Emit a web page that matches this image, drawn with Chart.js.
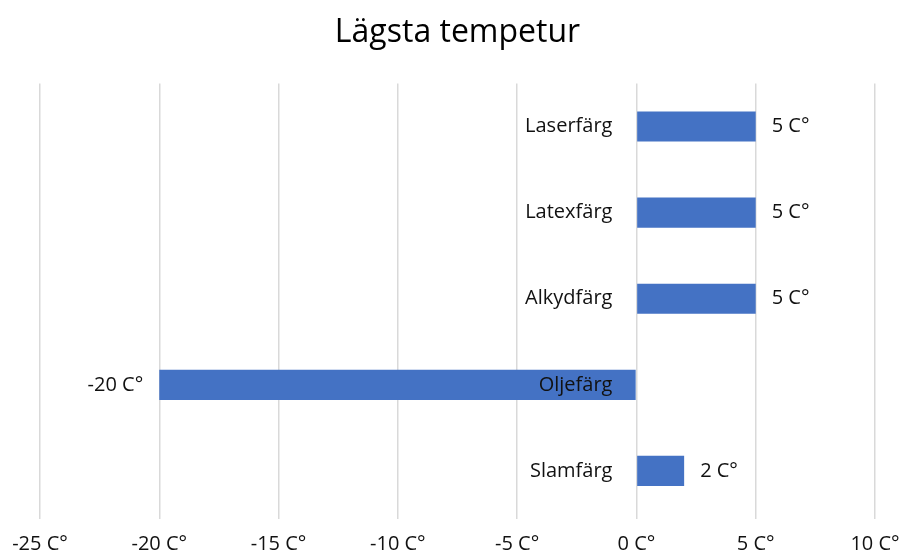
<!DOCTYPE html>
<html>
<head>
<meta charset="utf-8">
<script src="https://cdn.jsdelivr.net/npm/chart.js@4"></script>
<style>
  html, body { margin: 0; padding: 0; background: #fff; }
  #wrap { width: 900px; height: 554px; }
</style>
</head>
<body>
<div id="wrap"><canvas id="c" width="900" height="554"></canvas></div>
<script>
const categories = ['Laserfärg', 'Latexfärg', 'Alkydfärg', 'Oljefärg', 'Slamfärg'];
const values = [5, 5, 5, -20, 2];
const xTickValues = [-25, -20, -15, -10, -5, 0, 5, 10];
const unitSuffix = ' C°';
const titleText = 'Lägsta tempetur';

const FONT = "'Open Sans', 'Noto Sans', sans-serif";

const labelPlugin = {
  id: 'barLabels',
  afterDatasetsDraw(chart) {
    const ctx = chart.ctx;
    const meta = chart.getDatasetMeta(0);
    const xScale = chart.scales.x;
    const zeroX = xScale.getPixelForValue(0);
    ctx.save();
    ctx.font = '20px ' + FONT;
    ctx.textBaseline = 'middle';
    meta.data.forEach((bar, i) => {
      const y = bar.y;
      ctx.fillStyle = '#111';
      ctx.textAlign = 'right';
      ctx.fillText(categories[i], zeroX - 24, y);
      const v = values[i];
      const endX = xScale.getPixelForValue(v);
      if (v >= 0) {
        ctx.textAlign = 'left';
        ctx.fillText(v + unitSuffix, endX + 16, y);
      } else {
        ctx.textAlign = 'right';
        ctx.fillText(v + unitSuffix, endX - 16, y);
      }
    });
    ctx.restore();
  }
};

new Chart(document.getElementById('c'), {
  type: 'bar',
  data: {
    labels: categories,
    datasets: [{
      data: values,
      backgroundColor: '#4472C4',
      borderWidth: 0,
      barPercentage: 0.7,
      categoryPercentage: 0.5
    }]
  },
  options: {
    indexAxis: 'y',
    responsive: false,
    animation: false,
    layout: { padding: { left: 40, right: 25, top: 0, bottom: 0 } },
    plugins: {
      legend: { display: false },
      tooltip: { enabled: false },
      title: {
        display: true,
        text: titleText,
        color: '#000',
        font: { family: FONT, size: 32, weight: 'normal', lineHeight: 1.2 },
        padding: { top: 14, bottom: 31 }
      }
    },
    scales: {
      x: {
        min: -25,
        max: 10,
        afterBuildTicks(scale) {
          scale.ticks = xTickValues.map(v => ({ value: v }));
        },
        afterFit(scale) {
          scale.paddingLeft = 0;
          scale.paddingRight = 0;
          scale.height = 40;
        },
        ticks: {
          color: '#111',
          font: { family: FONT, size: 20, lineHeight: 1 },
          padding: 15,
          maxRotation: 0,
          autoSkip: false,
          callback: v => v + unitSuffix
        },
        grid: {
          color: '#d9d9d9',
          lineWidth: 1.5,
          drawTicks: true,
          tickLength: 5
        },
        border: { display: false }
      },
      y: {
        display: false,
        grid: { display: false }
      }
    }
  },
  plugins: [labelPlugin]
});
</script>
</body>
</html>
